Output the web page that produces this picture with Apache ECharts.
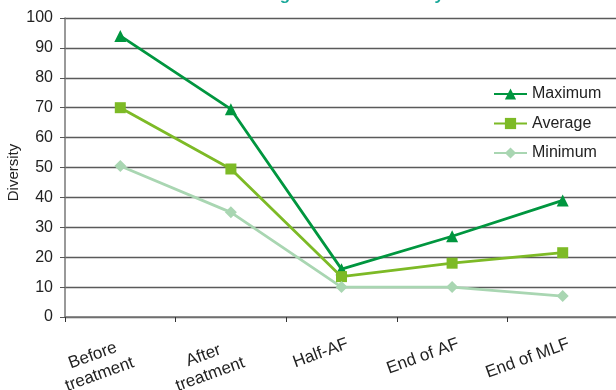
<!DOCTYPE html>
<html>
<head>
<meta charset="utf-8">
<script src="https://cdn.jsdelivr.net/npm/echarts@6/dist/echarts.min.js"></script>
<style>html,body{margin:0;padding:0;background:#fff}#c{width:616px;height:390px}</style>
</head>
<body>
<div id="c"></div>
<script>
var titleText = 'Results of average PCR-DGGE analysis';
var categories = ['Before\ntreatment', 'After\ntreatment', 'Half-AF', 'End of AF', 'End of MLF'];
var maximum = [94, 69.5, 16, 27, 39];
var average = [70, 49.5, 13.5, 18, 21.5];
var minimum = [50.5, 35, 10, 10, 7];
var yTicks = [0, 100, 10];

var chart = echarts.init(document.getElementById('c'), null, {renderer: 'canvas'});
var FONT = 'Liberation Sans';
function mk(name, data, color, symbol, size) {
  return {
    name: name, type: 'line', data: data,
    symbol: symbol, symbolSize: size,
    lineStyle: {color: color, width: 2.8},
    itemStyle: {color: color},
    z: 3
  };
}
chart.setOption({
  animation: false,
  textStyle: {fontFamily: FONT},
  title: {
    text: titleText, left: 'center', top: -18,
    textStyle: {color: '#1aa89a', fontSize: 17, fontWeight: 'bold', fontFamily: FONT}
  },
  grid: {left: 65, right: -2, top: 18, bottom: 73, containLabel: false, outerBoundsMode: 'none'},
  legend: {
    orient: 'vertical', left: 488, top: 81,
    itemWidth: 33, itemHeight: 14, itemGap: 13.5,
    textStyle: {fontSize: 16, color: '#222', fontFamily: FONT},
    data: ['Maximum', 'Average', 'Minimum']
  },
  xAxis: {
    type: 'category', data: categories, boundaryGap: true,
    axisLine: {show: true, lineStyle: {color: '#777', width: 1.5}},
    axisTick: {show: true, length: 5, lineStyle: {color: '#333', width: 1}},
    axisLabel: {
      rotate: 20, margin: 18, color: '#222', fontFamily: FONT, fontSize: 17,
      verticalAlign: 'top',
      padding: [0, -3, 0, 0],
      formatter: function (v) {
        return v.split('\n').map(function (s) { return '{a|' + s + '}'; }).join('\n');
      },
      rich: {
        a: {fontSize: 17, color: '#222', fontFamily: FONT, lineHeight: 20, align: 'center'}
      }
    },
    splitLine: {show: false}
  },
  yAxis: {
    type: 'value', min: yTicks[0], max: yTicks[1], interval: yTicks[2],
    name: 'Diversity', nameLocation: 'middle', nameGap: 44, nameMoveOverlap: false,
    nameTextStyle: {fontSize: 15, color: '#222', fontFamily: FONT, padding: [0, 10, 0, 0]},
    axisLine: {show: true, lineStyle: {color: '#777', width: 1.5}},
    axisTick: {show: true, length: 5, lineStyle: {color: '#555', width: 1}},
    axisLabel: {fontSize: 16, color: '#222', margin: 12, fontFamily: FONT},
    splitLine: {show: true, lineStyle: {color: '#5a5a5a', width: 1.3}}
  },
  series: [
    mk('Maximum', maximum, '#00963f', 'triangle', 12),
    mk('Average', average, '#7dba26', 'rect', 11),
    mk('Minimum', minimum, '#a9d6b2', 'diamond', 12)
  ]
});
</script>
</body>
</html>
